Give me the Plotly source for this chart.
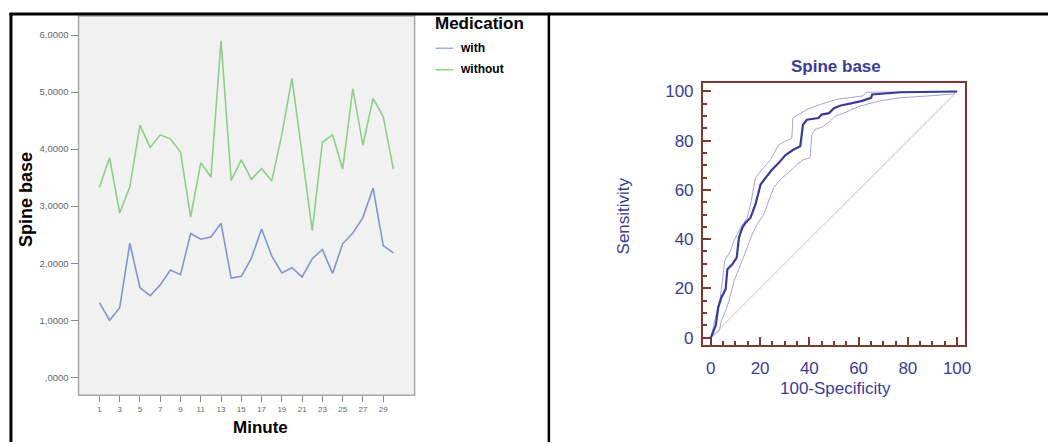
import plotly.graph_objects as go

# ---------------- data: left panel ----------------
minutes = list(range(1, 31))
with_med = [1.31, 1.00, 1.22, 2.35, 1.57, 1.43, 1.62, 1.88, 1.80, 2.52,
            2.42, 2.46, 2.70, 1.74, 1.77, 2.09, 2.60, 2.13, 1.83, 1.92,
            1.76, 2.08, 2.24, 1.82, 2.34, 2.53, 2.80, 3.32, 2.31, 2.18]
without_med = [3.33, 3.85, 2.88, 3.34, 4.42, 4.03, 4.25, 4.18, 3.95, 2.81,
               3.76, 3.51, 5.90, 3.45, 3.81, 3.47, 3.66, 3.44, 4.26, 5.24,
               3.91, 2.57, 4.12, 4.25, 3.65, 5.06, 4.07, 4.89, 4.57, 3.65]
left_xticks = list(range(1, 30, 2))
left_yticks = [0, 1, 2, 3, 4, 5, 6]
left_yticklabels = [",0000", "1,0000", "2,0000", "3,0000", "4,0000", "5,0000", "6,0000"]

# ---------------- data: right panel (ROC) ----------------
roc_fpr = [0, 0.7, 2, 3, 4.3, 6, 6.7, 8.7, 10.5, 11.4, 12.8, 14.1, 16.1, 18.1, 20.2,
           22.2, 24.9, 27.6, 30.2, 33.6, 36.3, 37.4, 39, 43.7, 45, 48, 50, 52.4,
           61.1, 65.1, 65.5, 77.2, 100]
roc_tpr = [0, 1.5, 4.9, 12.3, 16.3, 19.7, 27.8, 29.8, 32.5, 40.6, 44.7, 46.7, 48.7, 54.1, 62.2,
           64.9, 68.3, 71, 74.1, 76.4, 77.7, 86.5, 88.5, 89.2, 90.6, 91.2, 93.2, 94.2,
           96.1, 97.4, 98.8, 99.7, 100]
ci_up_fpr = [0, 1.3, 2.4, 3.8, 4.7, 5.6, 8, 9.4, 12.1, 14.8, 16.4, 18.1, 20.8, 24.2,
             27.6, 32.9, 33.3, 39, 44.4, 48.4, 51.1, 61.8, 63.1, 100]
ci_up_tpr = [0, 5.5, 9.6, 16.3, 23, 31.2, 35.2, 39.3, 44.7, 48.7, 55.5, 64.9, 68.3, 72.3,
             78.4, 81.1, 89.2, 92.7, 94.7, 95.9, 96.8, 98.2, 99.7, 100]
ci_lo_fpr = [0, 3.4, 4.3, 6, 7.4, 8.7, 9.4, 10.8, 12.8, 14.8, 16.8, 18.8, 21.5, 23.5,
             25.5, 28.9, 32.3, 34.9, 37.6, 40.3, 41, 42.3, 45.7, 48.4, 50.4, 54.2,
             60.3, 68.3, 76.4, 89.8, 98.6, 100]
ci_lo_tpr = [0, 2.8, 6.9, 10.9, 15, 20.4, 23, 26.4, 31.2, 36.6, 42, 46, 50.1, 55.5,
             60.9, 64.9, 67.6, 70.3, 72.3, 73, 82.4, 84.5, 85.8, 87.9, 89.9, 91.3,
             94, 96.1, 97.4, 98.3, 99, 100]
diag = [0, 100]
roc_ticks = [0, 20, 40, 60, 80, 100]

W, H = 1054, 444
def px(x):
    return x / W
def py(y):
    return 1 - y / H

BLUE_L = "#8394d2"
GREEN_L = "#8ccf86"
ROC_BLUE = "#3a3a9a"
CI_BLUE = "#a3a3dc"
BROWN = "#7a3a30"
TXT_BLUE = "#3b3b98"
FONT = "Liberation Sans, Arial, sans-serif"

fig = go.Figure()

fig.add_trace(go.Scatter(x=minutes, y=with_med, mode="lines", name="with",
                         line=dict(color=BLUE_L, width=1.6), xaxis="x", yaxis="y",
                         showlegend=False))
fig.add_trace(go.Scatter(x=minutes, y=without_med, mode="lines", name="without",
                         line=dict(color=GREEN_L, width=1.6), xaxis="x", yaxis="y",
                         showlegend=False))

fig.add_trace(go.Scatter(x=diag, y=diag, mode="lines", line=dict(color="#dcb4b4", width=1),
                         xaxis="x2", yaxis="y2", showlegend=False))
fig.add_trace(go.Scatter(x=ci_up_fpr, y=ci_up_tpr, mode="lines", line=dict(color=CI_BLUE, width=1),
                         xaxis="x2", yaxis="y2", showlegend=False))
fig.add_trace(go.Scatter(x=ci_lo_fpr, y=ci_lo_tpr, mode="lines", line=dict(color=CI_BLUE, width=1),
                         xaxis="x2", yaxis="y2", showlegend=False))
fig.add_trace(go.Scatter(x=roc_fpr, y=roc_tpr, mode="lines", line=dict(color=ROC_BLUE, width=2.2),
                         xaxis="x2", yaxis="y2", showlegend=False))

shapes = [
    dict(type="rect", xref="paper", yref="paper", x0=px(79), x1=px(417), y0=py(397), y1=py(16),
         fillcolor="#f1f1f1", line=dict(color="#a8a8a8", width=1.5), layer="below"),
    dict(type="line", xref="paper", yref="paper", x0=px(9.5), x1=1, y0=py(14), y1=py(14),
         line=dict(color="black", width=3)),
    dict(type="line", xref="paper", yref="paper", x0=px(11), x1=px(11), y0=py(13), y1=0,
         line=dict(color="black", width=3)),
    dict(type="line", xref="paper", yref="paper", x0=px(552), x1=px(552), y0=py(13), y1=0,
         line=dict(color="black", width=2.5)),
    dict(type="line", xref="paper", yref="paper", x0=px(438), x1=px(456), y0=py(48.5), y1=py(48.5),
         line=dict(color="#a4b0de", width=1.6)),
    dict(type="line", xref="paper", yref="paper", x0=px(438), x1=px(456), y0=py(70), y1=py(70),
         line=dict(color=GREEN_L, width=1.6)),
]

def ann(text, x, y, size, color, xanchor="center", angle=0):
    return dict(text=text, x=px(x), y=py(y), xref="paper", yref="paper",
                xanchor=xanchor, yanchor="middle", textangle=angle, showarrow=False,
                font=dict(family=FONT, size=size, color=color))

annotations = [
    ann("<b>Spine base</b>", 26, 200, 18, "black", angle=-90),
    ann("<b>Minute</b>", 262, 429, 17, "black"),
    ann("<b>Medication</b>", 435, 24, 17, "black", xanchor="left"),
    ann("<b>with</b>", 461, 48, 12, "black", xanchor="left"),
    ann("<b>without</b>", 461, 69, 12, "black", xanchor="left"),
    ann("<b>Spine base</b>", 841, 67, 17, TXT_BLUE),
    ann("Sensitivity", 627, 217, 17, TXT_BLUE, angle=-90),
    ann("100-Specificity", 840, 390, 17, TXT_BLUE),
]

fig.update_layout(
    width=W, height=H,
    margin=dict(l=0, r=0, t=0, b=0),
    paper_bgcolor="white",
    plot_bgcolor="rgba(0,0,0,0)",
    shapes=shapes,
    annotations=annotations,
    xaxis=dict(domain=[px(79), px(417)], range=[-1.06, 32.1], anchor="y",
               tickvals=left_xticks, ticks="outside", ticklen=6, tickcolor="#888",
               tickfont=dict(family=FONT, size=8, color="#666"),
               showgrid=False, zeroline=False, showline=False),
    yaxis=dict(domain=[py(397), py(16)], range=[-0.314, 6.335], anchor="x",
               tickvals=left_yticks, ticktext=left_yticklabels,
               ticks="outside", ticklen=7, tickcolor="#888",
               tickfont=dict(family=FONT, size=9.5, color="#666"),
               showgrid=False, zeroline=False, showline=False),
    xaxis2=dict(domain=[px(707), px(971)], range=[-3.2, 103.4], anchor="y2",
                tickvals=roc_ticks, ticks="inside", ticklen=8, tickwidth=2, tickcolor=BROWN,
                minor=dict(dtick=5, tick0=0, ticks="inside", ticklen=4, tickwidth=1.5, tickcolor=BROWN),
                tickfont=dict(family=FONT, size=17, color=TXT_BLUE), ticklabelstandoff=6,
                showline=True, linecolor=BROWN, linewidth=2, mirror=True,
                showgrid=False, zeroline=False),
    yaxis2=dict(domain=[py(347), py(83)], range=[-3.2, 103.6], anchor="x2",
                tickvals=roc_ticks, ticks="inside", ticklen=8, tickwidth=2, tickcolor=BROWN,
                minor=dict(dtick=5, tick0=0, ticks="inside", ticklen=4, tickwidth=1.5, tickcolor=BROWN),
                tickfont=dict(family=FONT, size=17, color=TXT_BLUE), ticklabelstandoff=4,
                showline=True, linecolor=BROWN, linewidth=2, mirror=True,
                showgrid=False, zeroline=False),
)

fig.write_html("out.html",
               config={"displayModeBar": False},
               post_script="document.body.style.margin='0';document.body.style.overflow='hidden';")
